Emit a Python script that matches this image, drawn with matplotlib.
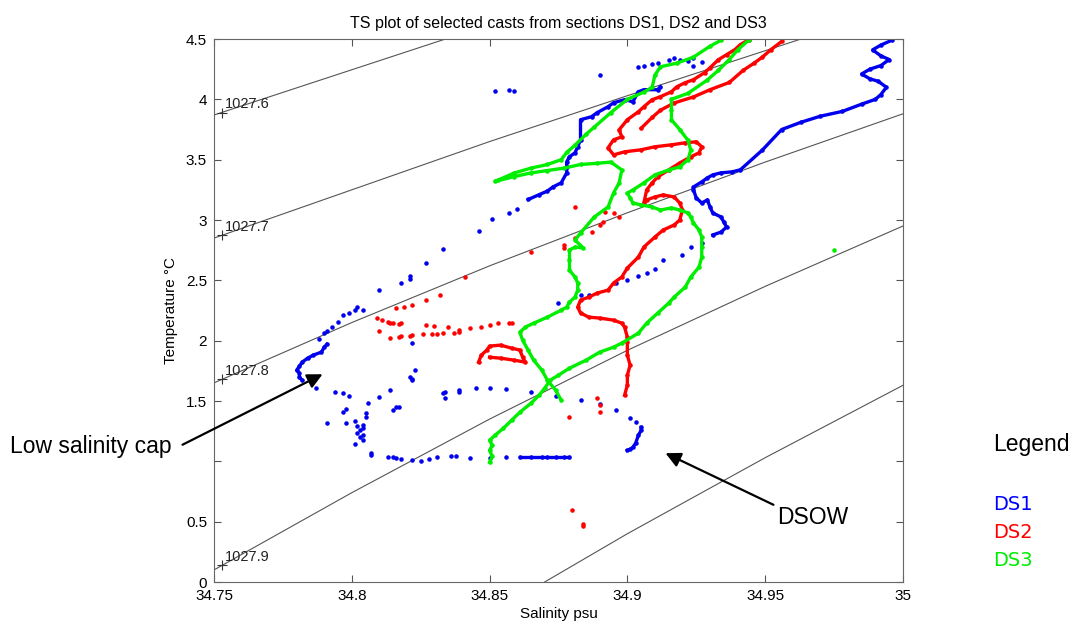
import matplotlib
matplotlib.use('Agg')
import matplotlib.pyplot as plt

plt.rcParams['font.family'] = ['Liberation Sans', 'DejaVu Sans']

# isopycnals (salinity, temperature)
iso_276 = [(34.75, 3.87), (34.80, 4.245), (34.834, 4.50)]
iso_277 = [(34.75, 2.85), (34.85, 3.65), (34.90, 4.03), (34.963, 4.50)]
iso_278 = [(34.75, 1.65), (34.80, 2.15), (34.85, 2.62), (34.90, 3.06), (34.95, 3.48), (35.0, 3.88)]
iso_279 = [(34.75, 0.10), (34.80, 0.74), (34.85, 1.35), (34.90, 1.92), (34.95, 2.45), (35.0, 2.95)]
iso_280 = [(34.87, 0.0), (34.90, 0.40), (34.95, 1.03), (35.0, 1.63)]
iso_labels = ['1027.6', '1027.7', '1027.8', '1027.9']
label_plus_t = [3.89, 2.875, 1.68, 0.14]

# DS1 (blue)
ds1_cap = [(34.782, 1.672), (34.781, 1.697), (34.781, 1.730), (34.780, 1.755), (34.781, 1.788),
           (34.782, 1.822), (34.784, 1.855), (34.786, 1.880), (34.789, 1.905), (34.790, 1.946),
           (34.791, 1.971)]
ds1_sparse = [(34.788, 2.013), (34.790, 2.062), (34.791, 2.079), (34.793, 2.112), (34.795, 2.154),
              (34.797, 2.212), (34.799, 2.229), (34.801, 2.254), (34.802, 2.278), (34.804, 2.254),
              (34.810, 2.42), (34.818, 2.48), (34.821, 2.54), (34.821, 2.51), (34.827, 2.64),
              (34.833, 2.76), (34.846, 2.91), (34.851, 3.01), (34.857, 3.06), (34.860, 3.09),
              (34.787, 1.606), (34.794, 1.573), (34.797, 1.565), (34.799, 1.540), (34.797, 1.407),
              (34.798, 1.432), (34.791, 1.316), (34.798, 1.316), (34.801, 1.332), (34.802, 1.291),
              (34.803, 1.257), (34.804, 1.274), (34.804, 1.299), (34.802, 1.233), (34.803, 1.199),
              (34.804, 1.216), (34.804, 1.175), (34.805, 1.365), (34.805, 1.399), (34.806, 1.482),
              (34.801, 1.141), (34.807, 1.066), (34.807, 1.050), (34.810, 1.531), (34.814, 1.589),
              (34.815, 1.423), (34.816, 1.448), (34.817, 1.448), (34.821, 1.697), (34.822, 1.672),
              (34.822, 1.681), (34.823, 1.755), (34.833, 1.565), (34.834, 1.523), (34.839, 1.573),
              (34.822, 1.980),
              (34.813, 1.033), (34.815, 1.033), (34.816, 1.025), (34.818, 1.017), (34.822, 1.008),
              (34.825, 1.000), (34.828, 1.017), (34.831, 1.033), (34.836, 1.042), (34.838, 1.042),
              (34.843, 1.025), (34.850, 1.025), (34.856, 1.033),
              (34.834, 1.573), (34.839, 1.589), (34.845, 1.606), (34.850, 1.606), (34.856, 1.598),
              (34.865, 1.573), (34.874, 1.540), (34.883, 1.506), (34.890, 1.473), (34.896, 1.423),
              (34.901, 1.357), (34.903, 1.324),
              (34.883, 2.38), (34.886, 2.38), (34.875, 2.31), (34.896, 2.48), (34.900, 2.50),
              (34.904, 2.54), (34.907, 2.56), (34.910, 2.59), (34.913, 2.67), (34.920, 2.71),
              (34.923, 2.78), (34.927, 2.81),
              (34.904, 4.27), (34.906, 4.28), (34.909, 4.29), (34.911, 4.30), (34.915, 4.33),
              (34.917, 4.34), (34.919, 4.33), (34.922, 4.32), (34.924, 4.34), (34.927, 4.31),
              (34.924, 4.28), (34.890, 4.20), (34.852, 4.07), (34.857, 4.08), (34.859, 4.07)]
ds1_row = [(34.861, 1.033), (34.865, 1.033), (34.869, 1.033), (34.871, 1.033), (34.874, 1.033),
           (34.877, 1.033), (34.879, 1.033)]
ds1_hook = [(34.905, 1.282), (34.905, 1.257), (34.904, 1.216), (34.903, 1.150), (34.902, 1.116),
            (34.901, 1.100), (34.900, 1.091)]
ds1_mid = [(34.864, 3.17), (34.868, 3.21), (34.871, 3.24), (34.873, 3.274), (34.876, 3.308),
           (34.878, 3.391), (34.878, 3.441), (34.878, 3.482), (34.879, 3.524), (34.881, 3.557),
           (34.882, 3.607), (34.883, 3.665), (34.883, 3.831), (34.887, 3.856), (34.889, 3.889),
           (34.893, 3.939), (34.895, 3.972), (34.899, 3.997), (34.902, 3.980), (34.904, 4.063),
           (34.906, 4.080), (34.911, 4.080), (34.912, 4.104)]
ds1_right = [(34.931, 2.876), (34.934, 2.900), (34.936, 2.942), (34.935, 2.983), (34.934, 3.025),
             (34.931, 3.058), (34.930, 3.108), (34.929, 3.166), (34.927, 3.141), (34.925, 3.183),
             (34.924, 3.249), (34.924, 3.274), (34.927, 3.316), (34.929, 3.349), (34.931, 3.374),
             (34.934, 3.391), (34.938, 3.399), (34.941, 3.416), (34.949, 3.58), (34.956, 3.75),
             (34.963, 3.81), (34.970, 3.86), (34.978, 3.90), (34.985, 3.96), (34.990, 4.00),
             (34.992, 4.04), (34.994, 4.10), (34.991, 4.15), (34.988, 4.17), (34.985, 4.21),
             (34.988, 4.25), (34.992, 4.28), (34.995, 4.33), (34.992, 4.36), (34.989, 4.41),
             (34.992, 4.45), (34.996, 4.49)]

# DS2 (red)
ds2_sparse = [(34.880, 0.594), (34.884, 0.477), (34.884, 0.46), (34.890, 1.465), (34.890, 1.407),
              (34.889, 1.523), (34.879, 1.365),
              (34.814, 2.021), (34.817, 2.029), (34.818, 2.037), (34.821, 2.037), (34.822, 2.045),
              (34.826, 2.054), (34.829, 2.054), (34.831, 2.054), (34.833, 2.062), (34.837, 2.062),
              (34.839, 2.071), (34.809, 2.187), (34.811, 2.170), (34.813, 2.154), (34.814, 2.145),
              (34.815, 2.145), (34.817, 2.137), (34.818, 2.145), (34.810, 2.079), (34.839, 2.087),
              (34.843, 2.104), (34.847, 2.112), (34.850, 2.129), (34.853, 2.145), (34.857, 2.145),
              (34.858, 2.145), (34.827, 2.129), (34.830, 2.121), (34.835, 2.112),
              (34.816, 2.270), (34.819, 2.278), (34.822, 2.295), (34.827, 2.336), (34.832, 2.378),
              (34.841, 2.527), (34.865, 2.735), (34.877, 2.793), (34.877, 2.768), (34.881, 2.851),
              (34.887, 2.901), (34.890, 2.959), (34.891, 2.984), (34.892, 3.067), (34.895, 3.058),
              (34.897, 3.025), (34.881, 3.108)]
ds2_blob = [(34.846, 1.822), (34.847, 1.880), (34.849, 1.922), (34.850, 1.955), (34.854, 1.963),
            (34.858, 1.938), (34.861, 1.922), (34.862, 1.863), (34.863, 1.822), (34.859, 1.838),
            (34.854, 1.855), (34.850, 1.863)]
ds2_a = [(34.899, 1.548), (34.900, 1.631), (34.900, 1.714), (34.901, 1.797), (34.900, 1.880),
         (34.900, 1.988), (34.900, 2.029), (34.899, 2.112), (34.898, 2.145), (34.895, 2.170),
         (34.890, 2.187), (34.886, 2.195), (34.883, 2.229), (34.882, 2.278), (34.883, 2.336),
         (34.886, 2.361), (34.889, 2.394), (34.893, 2.419), (34.895, 2.478), (34.898, 2.528),
         (34.900, 2.602), (34.904, 2.693), (34.906, 2.776), (34.910, 2.859), (34.913, 2.917),
         (34.917, 2.959), (34.919, 3.000), (34.920, 3.083), (34.919, 3.141), (34.917, 3.191),
         (34.913, 3.208), (34.910, 3.191), (34.907, 3.166), (34.906, 3.141), (34.907, 3.249),
         (34.909, 3.308), (34.911, 3.357), (34.915, 3.415), (34.919, 3.473), (34.923, 3.523),
         (34.926, 3.557), (34.927, 3.607), (34.925, 3.648), (34.921, 3.640), (34.916, 3.623),
         (34.910, 3.607), (34.905, 3.582), (34.899, 3.565), (34.895, 3.540), (34.893, 3.598),
         (34.895, 3.665), (34.898, 3.689), (34.897, 3.747), (34.900, 3.831), (34.904, 3.897),
         (34.906, 3.939), (34.909, 3.997), (34.912, 4.022), (34.916, 4.063), (34.918, 4.105),
         (34.921, 4.138), (34.924, 4.163), (34.928, 4.221), (34.930, 4.262), (34.933, 4.328),
         (34.936, 4.370), (34.939, 4.412), (34.941, 4.453), (34.944, 4.494)]
ds2_c = [(34.905, 3.76), (34.909, 3.85), (34.912, 3.91), (34.917, 3.97), (34.924, 4.02),
         (34.930, 4.08), (34.937, 4.14), (34.942, 4.24), (34.946, 4.30), (34.949, 4.35),
         (34.952, 4.41), (34.956, 4.48)]

# DS3 (green)
ds3_a = [(34.850, 0.992), (34.851, 1.041), (34.850, 1.091), (34.851, 1.133), (34.850, 1.174),
         (34.852, 1.216), (34.855, 1.274), (34.858, 1.340), (34.861, 1.407), (34.865, 1.481),
         (34.868, 1.548), (34.870, 1.606), (34.872, 1.672), (34.875, 1.714), (34.879, 1.772),
         (34.885, 1.838), (34.890, 1.905), (34.895, 1.946), (34.898, 1.980), (34.904, 2.062),
         (34.907, 2.145), (34.911, 2.228), (34.915, 2.311), (34.917, 2.361), (34.921, 2.444),
         (34.923, 2.527), (34.926, 2.610), (34.927, 2.693), (34.927, 2.776), (34.927, 2.859),
         (34.926, 2.917), (34.924, 2.975), (34.923, 3.025), (34.922, 3.058), (34.919, 3.083),
         (34.916, 3.100), (34.912, 3.083), (34.909, 3.108), (34.905, 3.125), (34.902, 3.141),
         (34.901, 3.183), (34.900, 3.224), (34.902, 3.249), (34.906, 3.308), (34.910, 3.374),
         (34.915, 3.415), (34.919, 3.440), (34.922, 3.50), (34.923, 3.58), (34.922, 3.66),
         (34.919, 3.75), (34.916, 3.83), (34.916, 3.91), (34.916, 4.00), (34.922, 4.05),
         (34.929, 4.16), (34.933, 4.24), (34.937, 4.33), (34.940, 4.41), (34.944, 4.49)]
ds3_b = [(34.876, 1.506), (34.874, 1.589), (34.871, 1.672), (34.869, 1.755), (34.866, 1.838),
         (34.864, 1.921), (34.862, 2.004), (34.861, 2.070), (34.863, 2.112), (34.866, 2.145),
         (34.871, 2.195), (34.876, 2.253), (34.878, 2.278), (34.879, 2.320), (34.881, 2.361),
         (34.882, 2.419), (34.882, 2.477), (34.881, 2.527), (34.879, 2.585), (34.879, 2.668),
         (34.879, 2.751), (34.881, 2.776), (34.884, 2.768), (34.881, 2.834), (34.883, 2.892),
         (34.888, 3.025), (34.893, 3.108), (34.895, 3.224), (34.897, 3.307), (34.898, 3.415),
         (34.894, 3.48), (34.889, 3.47), (34.883, 3.46), (34.877, 3.43), (34.871, 3.41),
         (34.865, 3.39), (34.859, 3.36), (34.852, 3.32), (34.853, 3.33), (34.859, 3.39),
         (34.865, 3.43), (34.871, 3.46), (34.876, 3.50), (34.878, 3.56), (34.881, 3.62),
         (34.885, 3.71), (34.888, 3.77), (34.894, 3.89), (34.900, 4.00), (34.906, 4.06),
         (34.909, 4.10), (34.910, 4.20), (34.912, 4.27), (34.918, 4.30), (34.924, 4.35),
         (34.930, 4.44), (34.934, 4.49)]
ds3_single = [(34.975, 2.75)]

fig = plt.figure(figsize=(10.72, 6.24), dpi=100)
ax = fig.add_axes([0.1996, 0.0673, 0.6427, 0.8702])

for iso in [iso_276, iso_277, iso_278, iso_279, iso_280]:
    ax.plot([p[0] for p in iso], [p[1] for p in iso], color='#555555', lw=0.8)
for lab, tp in zip(iso_labels, label_plus_t):
    ax.plot(34.7529, tp, marker='+', color='#333333', ms=7, mew=0.8)
    ax.text(34.754, tp + 0.07, lab, fontsize=10.5, color='#222222', va='center', ha='left')


def dense(pts, color):
    ax.plot([p[0] for p in pts], [p[1] for p in pts], '.-', color=color, lw=2.4, ms=4.5)


def dots(pts, color):
    ax.plot([p[0] for p in pts], [p[1] for p in pts], '.', color=color, ms=4.5)


blue, red, green = '#0000ee', '#ff0000', '#00ee00'
dots(ds1_sparse, blue)
dense(ds1_cap, blue)
dense(ds1_row, blue)
dense(ds1_hook, blue)
dense(ds1_mid, blue)
dense(ds1_right, blue)
dots(ds2_sparse, red)
dense(ds2_blob, red)
dense(ds2_a, red)
dense(ds2_c, red)
dense(ds3_a, green)
dense(ds3_b, green)
dots(ds3_single, green)

ax.set_xlim(34.75, 35.0)
ax.set_ylim(0, 4.5)
ax.set_xticks([34.75, 34.8, 34.85, 34.9, 34.95, 35.0])
ax.set_xticklabels(['34.75', '34.8', '34.85', '34.9', '34.95', '35'])
ax.set_yticks([0, 0.5, 1, 1.5, 2, 2.5, 3, 3.5, 4, 4.5])
ax.set_yticklabels(['0', '0.5', '', '1.5', '2', '2.5', '3', '3.5', '4', '4.5'])
ax.tick_params(direction='in', top=True, right=True, length=5, width=0.8,
               labelsize=11, pad=5, color='#555555')
for sp in ax.spines.values():
    sp.set_color('#666666')
    sp.set_linewidth(0.8)
ax.set_xlabel('Salinity psu', fontsize=11, labelpad=3)
ax.set_ylabel('Temperature °C', fontsize=11, labelpad=6)
ax.set_title('TS plot of selected casts from sections DS1, DS2 and DS3', fontsize=11.5, pad=8)


# annotations placed in figure pixels
def px(x, y):
    return (x / 1072.0, 1 - y / 624.0)


arrow = dict(arrowstyle='-|>,head_length=0.9,head_width=0.45', color='black', lw=1.6)
ax.annotate('', xy=px(325, 373), xycoords='figure fraction',
            xytext=px(180, 446), textcoords='figure fraction', arrowprops=arrow)
fig.text(*px(10, 446), 'Low salinity cap', fontsize=16.5, va='center', ha='left')
ax.annotate('', xy=px(663, 452), xycoords='figure fraction',
            xytext=px(776, 506), textcoords='figure fraction', arrowprops=arrow,
            annotation_clip=False)
fig.text(*px(777, 517), 'DSOW', fontsize=16.5, va='center', ha='left')

fig.text(*px(993, 445), 'Legend', fontsize=16.5, va='center', ha='left')
fig.text(*px(993, 505), 'DS1', fontsize=14, va='center', ha='left', color='#0000ff', family='DejaVu Sans')
fig.text(*px(993, 533), 'DS2', fontsize=14, va='center', ha='left', color='#ff0000', family='DejaVu Sans')
fig.text(*px(993, 560), 'DS3', fontsize=14, va='center', ha='left', color='#00ee00', family='DejaVu Sans')

fig.savefig('out.png', dpi=100)
